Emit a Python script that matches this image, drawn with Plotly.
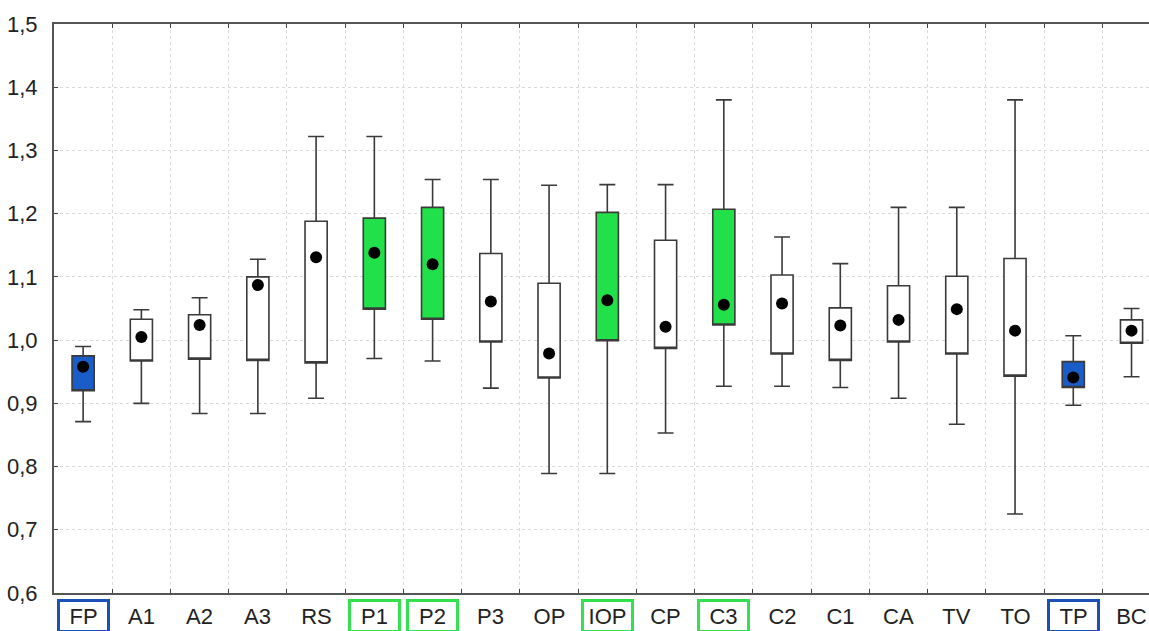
import plotly.graph_objects as go

categories = ["FP", "A1", "A2", "A3", "RS", "P1", "P2", "P3", "OP", "IOP",
              "CP", "C3", "C2", "C1", "CA", "TV", "TO", "TP", "BC"]
lower = [0.871, 0.900, 0.884, 0.884, 0.908, 0.971, 0.967, 0.924, 0.789, 0.789,
         0.853, 0.927, 0.927, 0.925, 0.908, 0.867, 0.725, 0.897, 0.942]
box_low = [0.920, 0.967, 0.970, 0.968, 0.964, 1.049, 1.033, 0.997, 0.940, 0.999,
           0.987, 1.024, 0.978, 0.968, 0.997, 0.978, 0.943, 0.925, 0.995]
box_high = [0.975, 1.033, 1.040, 1.100, 1.188, 1.193, 1.210, 1.137, 1.090, 1.202,
            1.158, 1.207, 1.103, 1.051, 1.086, 1.101, 1.129, 0.966, 1.032]
upper = [0.990, 1.048, 1.067, 1.128, 1.322, 1.322, 1.254, 1.254, 1.245, 1.246,
         1.246, 1.380, 1.163, 1.121, 1.210, 1.210, 1.380, 1.007, 1.050]
means = [0.958, 1.005, 1.024, 1.087, 1.131, 1.138, 1.120, 1.061, 0.979, 1.063,
         1.021, 1.056, 1.058, 1.023, 1.032, 1.049, 1.015, 0.941, 1.015]
groups = ["blue", "none", "none", "none", "none", "green", "green", "none", "none", "green",
          "none", "green", "none", "none", "none", "none", "none", "blue", "none"]

fill_colors = {"none": "#ffffff", "green": "#22e04a", "blue": "#1a5cc8"}
label_borders = {"none": "rgba(0,0,0,0)", "green": "#33e04f", "blue": "#1a50b8"}

fig = go.Figure()

for g in ["none", "green", "blue"]:
    idx = [i for i, gg in enumerate(groups) if gg == g]
    fig.add_trace(go.Box(
        x=[categories[i] for i in idx],
        q1=[box_low[i] for i in idx],
        median=[box_low[i] for i in idx],
        q3=[box_high[i] for i in idx],
        lowerfence=[lower[i] for i in idx],
        upperfence=[upper[i] for i in idx],
        fillcolor=fill_colors[g],
        line=dict(color="#3a3a3a", width=1.6),
        width=0.38,
        whiskerwidth=0.72,
        boxpoints=False,
        showlegend=False,
        hoverinfo="skip",
    ))

fig.add_trace(go.Scatter(
    x=categories, y=means, mode="markers",
    marker=dict(color="black", size=12),
    showlegend=False, hoverinfo="skip",
))

for c, g in zip(categories, groups):
    fig.add_annotation(
        x=c, xref="x", y=-0.0405, yref="paper", yanchor="middle",
        text=c, showarrow=False,
        font=dict(family="Liberation Sans, Arial", size=22, color="#222222"),
        bordercolor=label_borders[g], borderwidth=3,
        width=47, height=28, borderpad=0,
    )

fig.update_layout(
    width=1149, height=631,
    margin=dict(l=54, r=0, t=24, b=38),
    plot_bgcolor="white", paper_bgcolor="white",
    boxmode="overlay",
    separators=",.",
    font=dict(family="Liberation Sans, Arial", size=22, color="#222222"),
)
fig.update_xaxes(
    type="category", categoryorder="array", categoryarray=categories,
    range=[-0.5, 18.3],
    tickson="boundaries", ticks="inside", ticklen=4, tickcolor="#444444",
    showticklabels=False,
    showgrid=True, gridcolor="#dadada", griddash="dot", gridwidth=1,
    showline=True, linecolor="#555555", linewidth=2, mirror="ticks",
)
fig.update_yaxes(
    range=[0.6, 1.5], dtick=0.1, tick0=0.6, tickformat=".1f",
    ticks="inside", ticklen=4, tickcolor="#444444",
    showgrid=True, gridcolor="#dadada", griddash="dot", gridwidth=1,
    showline=True, linecolor="#555555", linewidth=2,
    zeroline=False, ticklabelstandoff=10,
    tickfont=dict(size=22, color="#222222"),
)

fig.write_html(
    "out.html",
    config={"displayModeBar": False},
    post_script="document.body.style.margin='0px';document.body.style.overflow='hidden';",
)
